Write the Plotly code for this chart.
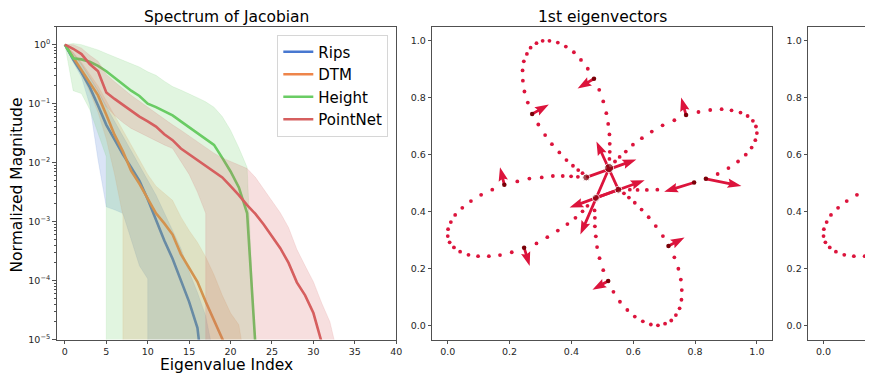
import math

import plotly.graph_objects as go

# ---------------------------------------------------------------------------
# Left panel: spectrum of the Jacobian, stored as log10(normalised magnitude)
# per eigenvalue index (index = position in the list).
# ---------------------------------------------------------------------------
RIPS = [0, -0.25, -0.47, -0.72, -1.03, -1.36, -1.61, -1.86, -2.08, -2.31, -2.62,
        -2.97, -3.32, -3.63, -3.98, -4.36, -4.8, -6.0]
DTM = [0, -0.22, -0.42, -0.64, -0.86, -1.19, -1.53, -1.81, -2.14, -2.36, -2.6,
       -2.86, -3.03, -3.22, -3.55, -3.78, -4.02, -4.36, -4.66, -4.97, -5.3]
HEIGHT = [0, -0.23, -0.25, -0.29, -0.36, -0.45, -0.56, -0.67, -0.78, -0.87, -1.0,
          -1.06, -1.13, -1.2, -1.3, -1.4, -1.5, -1.6, -1.7, -1.92, -2.15, -2.42,
          -2.86, -5.1]
POINTNET = [0, -0.07, -0.16, -0.33, -0.45, -0.81, -0.92, -1.02, -1.12, -1.22, -1.3,
            -1.39, -1.52, -1.62, -1.76, -1.86, -1.95, -2.05, -2.15, -2.25, -2.4,
            -2.55, -2.72, -2.87, -3.05, -3.25, -3.45, -3.7, -4.03, -4.25, -4.55,
            -5.05]

# upper edge of the shaded band (log10), index = position
RIPS_HI = [0, -0.15, -0.33, -0.55, -0.78, -1.05, -1.3, -1.55, -1.8, -2.05, -2.3,
           -2.55, -2.85, -3.15, -3.45, -3.85, -4.2, -4.6, -5.3]
DTM_HI = [0, -0.13, -0.3, -0.5, -0.7, -0.95, -1.2, -1.45, -1.72, -1.97, -2.2,
          -2.4, -2.52, -2.64, -2.92, -3.15, -3.35, -3.6, -3.9, -4.25, -4.55,
          -4.75, -5.6]
HEIGHT_HI = [0, 0.02, 0.0, -0.04, -0.09, -0.15, -0.21, -0.27, -0.33, -0.38, -0.46,
             -0.52, -0.62, -0.71, -0.77, -0.83, -0.9, -0.97, -1.06, -1.22, -1.45,
             -1.75, -2.08, -5.3]
POINTNET_HI = [0, 0.0, -0.06, -0.18, -0.28, -0.5, -0.63, -0.75, -0.86, -0.96, -1.06,
               -1.16, -1.27, -1.36, -1.45, -1.55, -1.65, -1.75, -1.84, -1.92, -1.98,
               -2.03, -2.1, -2.25, -2.45, -2.66, -2.85, -3.1, -3.47, -3.75, -4.02,
               -4.38, -4.7, -5.3]

# lower edge of the band; it falls to zero (-30 here) after the last index
RIPS_LO_X = [0, 1, 2, 3, 4, 5, 6, 7, 8, 9, 10, 10]
RIPS_LO = [0, -0.3, -0.55, -1.02, -1.95, -2.75, -2.8, -2.86, -3.3, -3.75, -3.97, -30]
DTM_LO_X = [0, 1, 2, 3, 4, 5, 6, 7, 7]
DTM_LO = [0, -0.28, -0.5, -0.8, -1.15, -1.6, -2.2, -2.9, -30]
HEIGHT_LO_X = [0, 1, 2, 3, 4, 5, 5]
HEIGHT_LO = [0, -0.78, -0.83, -1.1, -1.5, -1.9, -30]
POINTNET_LO_X = [0, 1, 2, 3, 4, 5, 6, 7, 8, 9, 10, 11, 12, 13, 14, 15, 16, 17, 17]
POINTNET_LO = [0, -0.15, -0.33, -0.55, -0.78, -1.05, -1.2, -1.32, -1.42, -1.5, -1.57,
               -1.63, -1.7, -1.76, -1.98, -2.2, -2.5, -2.86, -30]

X_TICKS = [0, 5, 10, 15, 20, 25, 30, 35, 40]
Y_TICK_EXP = [0, -1, -2, -3, -4, -5]

# ---------------------------------------------------------------------------
# Middle / right panels: sampled flower curve and first eigenvectors
# ---------------------------------------------------------------------------
CURVE_X = [
    0.329, 0.307, 0.287, 0.268, 0.256, 0.246, 0.242, 0.243, 0.248, 0.259, 0.293,
    0.315, 0.337, 0.361, 0.384, 0.405, 0.422, 0.436,
    0.356, 0.382, 0.408, 0.431, 0.453, 0.490, 0.503, 0.513, 0.519, 0.523, 0.524,
    0.524, 0.523,
    0.541, 0.556, 0.576, 0.599, 0.628, 0.660, 0.695, 0.733, 0.811, 0.849, 0.886,
    0.918, 0.947, 0.970, 0.987, 0.997, 1.000, 0.995, 0.983, 0.964, 0.939, 0.908,
    0.873, 0.678, 0.644, 0.614, 0.589,
    0.570, 0.586, 0.605, 0.627, 0.650, 0.673, 0.696, 0.733, 0.746, 0.754, 0.757,
    0.756, 0.750, 0.738, 0.723, 0.703, 0.680, 0.657, 0.631, 0.605, 0.581, 0.557,
    0.536, 0.503, 0.491, 0.483, 0.479, 0.476, 0.476, 0.475,
    0.452, 0.436, 0.413, 0.387, 0.356, 0.322, 0.287, 0.207, 0.169, 0.133, 0.098,
    0.067, 0.040, 0.020, 0.006, 0.000, 0.001, 0.010, 0.024, 0.047, 0.075, 0.108,
    0.144, 0.225, 0.264, 0.304, 0.340, 0.372, 0.399, 0.421,
]
CURVE_Y = [
    1.000, 1.000, 0.992, 0.976, 0.954, 0.928, 0.896, 0.860, 0.822, 0.783, 0.706,
    0.669, 0.637, 0.608, 0.581, 0.561, 0.546, 0.535,
    0.994, 0.980, 0.960, 0.933, 0.902, 0.828, 0.787, 0.746, 0.708, 0.671, 0.638,
    0.610, 0.585,
    0.576, 0.592, 0.611, 0.635, 0.658, 0.681, 0.703, 0.721, 0.750, 0.757, 0.760,
    0.756, 0.748, 0.736, 0.719, 0.699, 0.676, 0.651, 0.625, 0.600, 0.576, 0.553,
    0.532, 0.477, 0.476, 0.476, 0.477,
    0.464, 0.449, 0.431, 0.407, 0.380, 0.349, 0.314, 0.239, 0.199, 0.161, 0.124,
    0.090, 0.060, 0.036, 0.017, 0.006, 0.000, 0.003, 0.014, 0.031, 0.054, 0.083,
    0.118, 0.194, 0.236, 0.275, 0.313, 0.348, 0.378, 0.404,
    0.420, 0.401, 0.378, 0.356, 0.333, 0.310, 0.288, 0.257, 0.247, 0.243, 0.243,
    0.248, 0.259, 0.274, 0.292, 0.314, 0.338, 0.363, 0.388, 0.413, 0.437, 0.459,
    0.477, 0.506, 0.516, 0.520, 0.525, 0.525, 0.524, 0.522,
]

# arrows: tail (sample point) -> tip
ARROW_TAIL_X = [0.473, 0.273, 0.771, 0.183, 0.247, 0.519, 0.714, 0.835, 0.797,
                0.448, 0.552, 0.522, 0.479, 0.552]
ARROW_TAIL_Y = [0.867, 0.743, 0.739, 0.494, 0.273, 0.156, 0.279, 0.515, 0.502,
                0.520, 0.477, 0.553, 0.448, 0.477]
ARROW_TIP_X = [0.420, 0.327, 0.755, 0.169, 0.265, 0.468, 0.766, 0.950, 0.700,
               0.610, 0.481, 0.429, 0.637, 0.394]
ARROW_TIP_Y = [0.833, 0.776, 0.801, 0.556, 0.209, 0.125, 0.309, 0.490, 0.470,
               0.583, 0.646, 0.319, 0.510, 0.414]

# the four points near the crossing (drawn larger)
KEY_X = [0.448, 0.552, 0.479, 0.522]
KEY_Y = [0.520, 0.477, 0.448, 0.553]

UNIT_TICKS = [0.0, 0.2, 0.4, 0.6, 0.8, 1.0]

FONT = "DejaVu Sans"
INK = "#262626"
FRAME = "#505050"
CRIMSON = "#DC143C"
DARK = "#7a0008"
COLORS = {
    "Rips": (72, 120, 208),
    "DTM": (238, 133, 74),
    "Height": (106, 204, 100),
    "PointNet": (214, 95, 95),
}

W, H = 871, 389


def px(p):
    return p / W


def py(p):
    return 1 - p / H


def rgba(c, a):
    return f"rgba({c[0]},{c[1]},{c[2]},{a})"


def label(text, x, y, size=15.5, angle=0):
    return dict(text=text, x=px(x), y=py(y), xref="paper", yref="paper",
                xanchor="center", yanchor="middle", showarrow=False,
                textangle=angle, font=dict(size=size, color="black"))


# pixels per data unit in the eigenvector panel (for arrow geometry)
SX = (777.7 - 435.3) / 1.1
SY = (344 - 27) / 1.1


def arrow_path(tx, ty, hx, hy, hw=1.4, hl=14.0, hal=12.4, hh=4.8):
    """Quiver-style arrow polygon, built in pixel space, returned in data units."""
    x0, y0, x1, y1 = tx * SX, ty * SY, hx * SX, hy * SY
    length = math.hypot(x1 - x0, y1 - y0)
    ux, uy = (x1 - x0) / length, (y1 - y0) / length
    nx, ny = -uy, ux
    pts = [
        (x0 + nx * hw, y0 + ny * hw),
        (x1 - ux * hal + nx * hw, y1 - uy * hal + ny * hw),
        (x1 - ux * hl + nx * hh, y1 - uy * hl + ny * hh),
        (x1, y1),
        (x1 - ux * hl - nx * hh, y1 - uy * hl - ny * hh),
        (x1 - ux * hal - nx * hw, y1 - uy * hal - ny * hw),
        (x0 - nx * hw, y0 - ny * hw),
    ]
    return "M " + " L ".join(f"{x / SX:.5f},{y / SY:.5f}" for x, y in pts) + " Z"


fig = go.Figure()

series = [
    ("Rips", RIPS, RIPS_HI, RIPS_LO_X, RIPS_LO),
    ("DTM", DTM, DTM_HI, DTM_LO_X, DTM_LO),
    ("Height", HEIGHT, HEIGHT_HI, HEIGHT_LO_X, HEIGHT_LO),
    ("PointNet", POINTNET, POINTNET_HI, POINTNET_LO_X, POINTNET_LO),
]
for name, mean, hi, lo_x, lo in series:
    col = COLORS[name]
    fig.add_trace(go.Scatter(
        x=list(range(len(mean))), y=[10 ** v for v in mean],
        mode="lines", name=name,
        line=dict(color=rgba(col, 1), width=2.6),
        xaxis="x", yaxis="y",
    ))
    hi_x = list(range(len(hi)))
    fig.add_trace(go.Scatter(
        x=hi_x + lo_x[::-1], y=[10 ** v for v in hi + lo[::-1]],
        mode="lines", fill="toself", fillcolor=rgba(col, 0.2),
        line=dict(width=0.6, color=rgba(col, 0.2)),
        showlegend=False, hoverinfo="skip",
        xaxis="x", yaxis="y",
    ))

# curve samples in the middle and (cut off) right panel
for xa, ya in (("x2", "y2"), ("x3", "y3")):
    fig.add_trace(go.Scatter(
        x=CURVE_X, y=CURVE_Y, mode="markers",
        marker=dict(size=3.8, color=CRIMSON),
        showlegend=False, xaxis=xa, yaxis=ya,
    ))

shapes = [
    dict(type="path", path=arrow_path(tx, ty, hx, hy), xref="x2", yref="y2",
         fillcolor=CRIMSON, line=dict(width=0), layer="below")
    for tx, ty, hx, hy in zip(ARROW_TAIL_X, ARROW_TAIL_Y, ARROW_TIP_X, ARROW_TIP_Y)
]

fig.add_trace(go.Scatter(
    x=ARROW_TAIL_X[:9], y=ARROW_TAIL_Y[:9], mode="markers",
    marker=dict(size=4.5, color=DARK), showlegend=False,
    xaxis="x2", yaxis="y2",
))
fig.add_trace(go.Scatter(
    x=KEY_X, y=KEY_Y, mode="markers",
    marker=dict(size=[7, 7, 7, 9], color=DARK), showlegend=False,
    xaxis="x2", yaxis="y2",
))

annotations = [
    label("Spectrum of Jacobian", 228, 17),
    label("1st eigenvectors", 606.5, 17),
    label("Eigenvalue Index", 228, 370),
    label("Normalized Magnitude", 17, 187, angle=-90),
]

axis_common = dict(
    showline=True, linecolor=FRAME, linewidth=1, showgrid=False, zeroline=False,
    ticks="outside", ticklen=3.5, tickwidth=1, tickcolor=FRAME,
    tickfont=dict(size=9.5, color=INK),
)
y_dom = [py(344), py(27)]

minor_vals = [m * 10 ** e for e in range(-5, 1) for m in range(2, 10)]

fig.update_layout(
    width=W, height=H,
    margin=dict(l=0, r=0, t=0, b=0),
    paper_bgcolor="white", plot_bgcolor="white",
    font=dict(family=FONT, color=INK),
    showlegend=True,
    legend=dict(
        x=px(391), y=py(35), xanchor="right", yanchor="top",
        bgcolor="rgba(255,255,255,0.85)", bordercolor="#d6d6d6", borderwidth=1,
        font=dict(size=15, color="black"), itemwidth=30, tracegroupgap=0,
    ),
    xaxis=dict(domain=[px(57), px(399)], range=[-1, 40], tickvals=X_TICKS,
               mirror=True, anchor="y", **axis_common),
    yaxis=dict(domain=y_dom, type="log", range=[-5, 0.305],
               tickvals=[10 ** e for e in Y_TICK_EXP],
               ticktext=[f"10<sup>{str(e).replace('-', '−')}</sup>" for e in Y_TICK_EXP],
               minor=dict(tickvals=minor_vals, ticks="outside", ticklen=2,
                          tickcolor=FRAME),
               mirror=True, anchor="x", **axis_common),
    xaxis2=dict(domain=[px(435.3), px(777.7)], range=[-0.05, 1.05],
                tickvals=UNIT_TICKS, tickformat=".1f", mirror=True, anchor="y2",
                **axis_common),
    yaxis2=dict(domain=y_dom, range=[-0.05, 1.05], tickvals=UNIT_TICKS,
                tickformat=".1f", mirror=True, anchor="x2", **axis_common),
    xaxis3=dict(domain=[px(813.7), 1.0],
                range=[-0.05, -0.05 + (W - 813.7) / SX],
                tickvals=UNIT_TICKS, tickformat=".1f", mirror=True, anchor="y3",
                **axis_common),
    yaxis3=dict(domain=y_dom, range=[-0.05, 1.05], tickvals=UNIT_TICKS,
                tickformat=".1f", mirror=False, anchor="x3", **axis_common),
    annotations=annotations,
    shapes=shapes,
)

# the page's default 8px body margin would push the 871x389 figure off-window
fig.write_html(
    "out.html",
    config={"displayModeBar": False},
    post_script="document.body.style.margin='0';document.body.style.overflow='hidden';",
)
